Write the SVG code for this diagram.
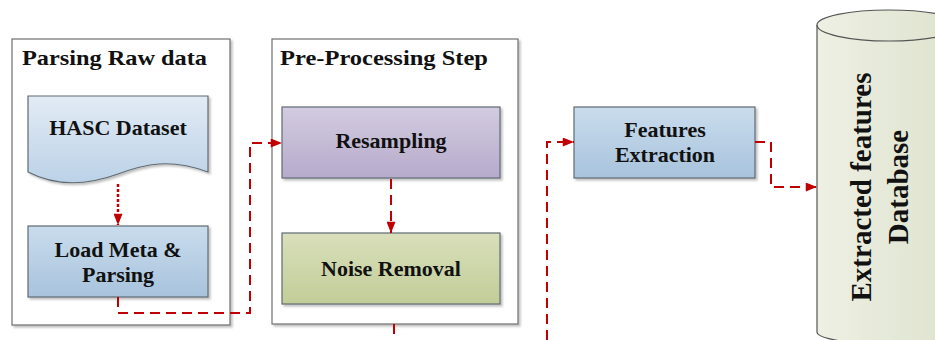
<svg xmlns="http://www.w3.org/2000/svg" width="935" height="340" viewBox="0 0 935 340">
  <defs>
    <linearGradient id="gBlueLight" x1="0" y1="0" x2="0" y2="1">
      <stop offset="0" stop-color="#e2ebf5"/>
      <stop offset="1" stop-color="#bcd2e7"/>
    </linearGradient>
    <linearGradient id="gBlue" x1="0" y1="0" x2="0" y2="1">
      <stop offset="0" stop-color="#c9dcec"/>
      <stop offset="1" stop-color="#a8c3dd"/>
    </linearGradient>
    <linearGradient id="gPurple" x1="0" y1="0" x2="0" y2="1">
      <stop offset="0" stop-color="#d3cbe0"/>
      <stop offset="1" stop-color="#b6abcb"/>
    </linearGradient>
    <linearGradient id="gGreen" x1="0" y1="0" x2="0" y2="1">
      <stop offset="0" stop-color="#d9dfbb"/>
      <stop offset="1" stop-color="#c2cd98"/>
    </linearGradient>
    <linearGradient id="gCyl" x1="0" y1="0" x2="1" y2="0">
      <stop offset="0" stop-color="#eef0e4"/>
      <stop offset="1" stop-color="#dde2cc"/>
    </linearGradient>
    <filter id="shadow" x="-5%" y="-5%" width="115%" height="115%">
      <feDropShadow dx="2" dy="2" stdDeviation="1.2" flood-color="#000" flood-opacity="0.25"/>
    </filter>
    <marker id="arrow" viewBox="0 0 10 8" refX="10" refY="4" markerWidth="12" markerHeight="9" markerUnits="userSpaceOnUse" orient="auto">
      <path d="M0,0 L10,4 L0,8 Z" fill="#c00000"/>
    </marker>
    <style>
      .container { fill: #ffffff; stroke: #6e6e6e; stroke-width: 1.2; }
      .box { stroke: #5f6b73; stroke-width: 1.2; }
      .title { font-family: "Liberation Serif", "Times New Roman", serif; font-weight: bold; font-size: 22px; fill: #111; }
      .label { font-family: "Liberation Serif", "Times New Roman", serif; font-weight: bold; font-size: 22px; fill: #111; text-anchor: middle; }
      .dblabel { font-family: "Liberation Serif", "Times New Roman", serif; font-weight: bold; font-size: 29px; fill: #111; text-anchor: middle; }
      .link { fill: none; stroke: #c00000; stroke-width: 2; stroke-dasharray: 10 6; }
      .dotted { fill: none; stroke: #c00000; stroke-width: 2.5; stroke-dasharray: 3 2; }
    </style>
  </defs>

  <rect width="935" height="340" fill="#ffffff"/>

  <!-- Stage 1 container -->
  <g id="parsing-raw-data">
    <rect class="container" x="12" y="39" width="218" height="286" filter="url(#shadow)"/>
    <text class="title" x="22" y="65" textLength="185" lengthAdjust="spacingAndGlyphs">Parsing Raw data</text>
  </g>

  <!-- Stage 2 container -->
  <g id="pre-processing-step">
    <rect class="container" x="272" y="39" width="246" height="285" filter="url(#shadow)"/>
    <text class="title" x="280" y="65" textLength="208" lengthAdjust="spacingAndGlyphs">Pre-Processing Step</text>
  </g>

  <!-- Source dataset (document shape) -->
  <g id="hasc-dataset">
    <path class="box" fill="url(#gBlueLight)" filter="url(#shadow)" d="M28,96 H208 V172 C170,158 145,164 118,174 C85,186 55,186 28,172 Z"/>
    <text class="label" x="118" y="135">HASC Dataset</text>
  </g>

  <g id="load-meta-parsing">
    <rect class="box" fill="url(#gBlue)" filter="url(#shadow)" x="28" y="226" width="180" height="71"/>
    <text class="label" x="118" y="257">Load Meta &amp;</text>
    <text class="label" x="118" y="282">Parsing</text>
  </g>

  <g id="resampling">
    <rect class="box" fill="url(#gPurple)" filter="url(#shadow)" x="282" y="107" width="218" height="71"/>
    <text class="label" x="391" y="148">Resampling</text>
  </g>

  <g id="noise-removal">
    <rect class="box" fill="url(#gGreen)" filter="url(#shadow)" x="282" y="233" width="218" height="71"/>
    <text class="label" x="391" y="276">Noise Removal</text>
  </g>

  <g id="features-extraction">
    <rect class="box" fill="url(#gBlue)" filter="url(#shadow)" x="574" y="107" width="181" height="71"/>
    <text class="label" x="665" y="137">Features</text>
    <text class="label" x="665" y="162">Extraction</text>
  </g>

  <!-- Output store (cylinder) -->
  <g id="extracted-features-database">
    <path fill="url(#gCyl)" stroke="#555" stroke-width="1.2" d="M817,25 A72,15 0 0 1 961,25 V332 A72,12 0 0 1 817,332 Z"/>
    <path fill="none" stroke="#555" stroke-width="1.2" d="M817,25 A72,16 0 0 0 961,25"/>
    <text class="dblabel" transform="translate(871,187) rotate(-90)">Extracted features</text>
    <text class="dblabel" transform="translate(908,187) rotate(-90)">Database</text>
  </g>

  <!-- Connectors -->
  <g id="connectors">
    <path class="dotted" d="M118,184 V225" marker-end="url(#arrow)"/>
    <path class="link" d="M118,297 V313 H250 V143 H282" marker-end="url(#arrow)"/>
    <path class="link" d="M391,179 V233" marker-end="url(#arrow)"/>
    <path class="link" d="M394,324 V340"/>
    <path class="link" d="M547,340 V142 H574" marker-end="url(#arrow)"/>
    <path class="link" d="M755,142 H771 V187 H817" marker-end="url(#arrow)"/>
  </g>
</svg>
